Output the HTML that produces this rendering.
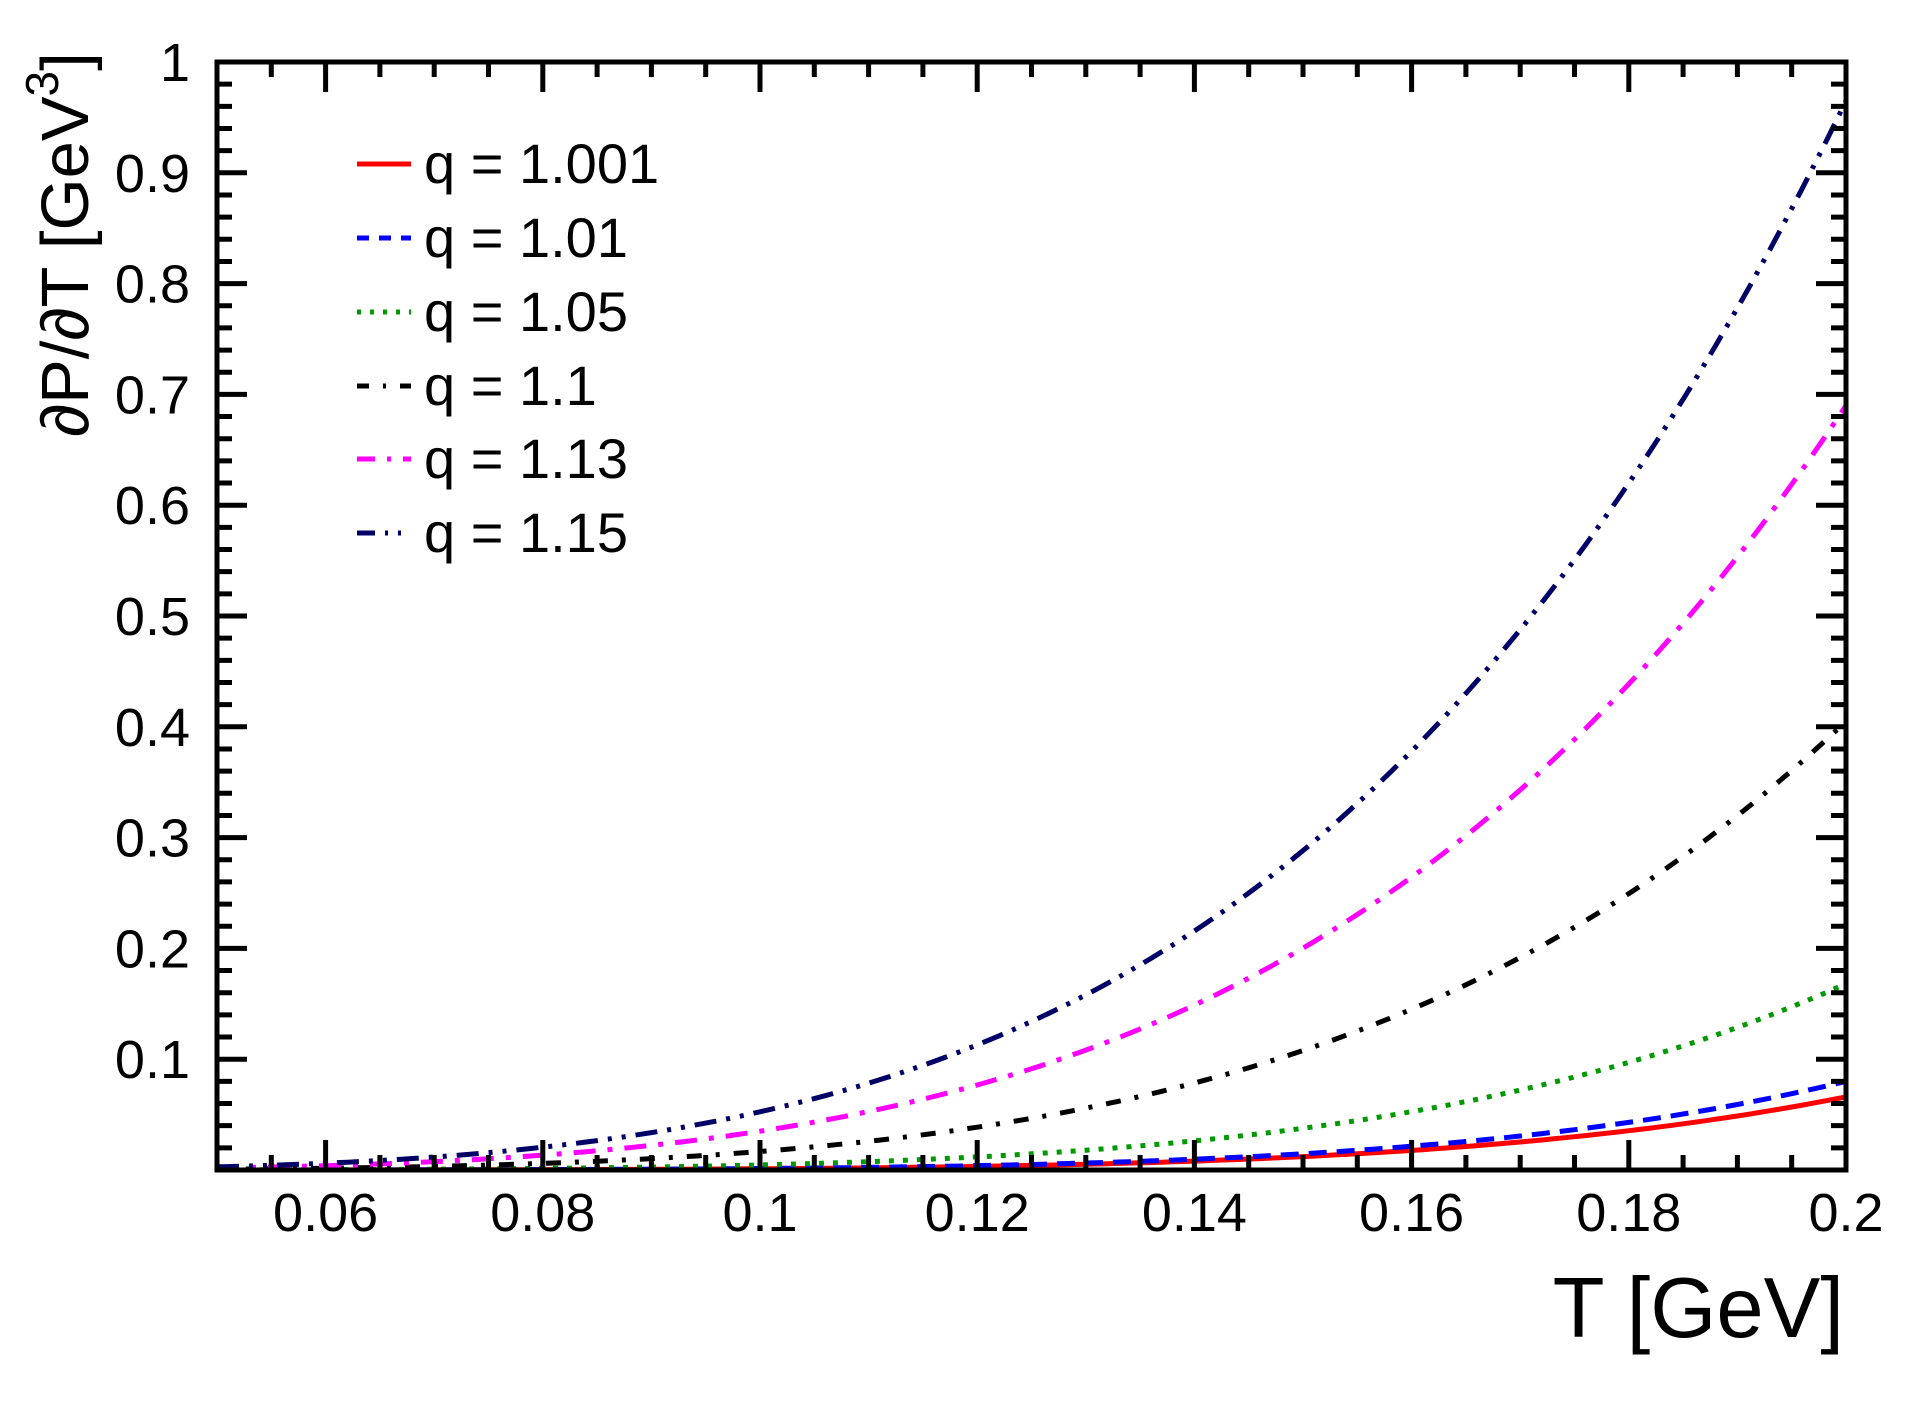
<!DOCTYPE html>
<html><head><meta charset="utf-8">
<style>
html,body{margin:0;padding:0;background:#fff;}
svg{display:block;}
text{font-family:"Liberation Sans",Arial,sans-serif;fill:#000;}
</style></head>
<body>
<svg id="s" width="1912" height="1408" viewBox="0 0 1912 1408" xmlns="http://www.w3.org/2000/svg">
<rect width="1912" height="1408" fill="#fff"/>
<g id="curves" fill="none" stroke-width="5"></g>
<g id="ticks" stroke="#000" stroke-width="5"></g>
<rect x="217" y="62" width="1629" height="1108" fill="none" stroke="#000" stroke-width="5"/>
<g id="labels" font-size="54"></g>
<text x="1844" y="1337" font-size="85" text-anchor="end">T [GeV]</text>
<text transform="translate(88,437) rotate(-90)" font-size="67">∂P/∂T [GeV<tspan font-size="46" dy="-30">3</tspan><tspan dy="30">]</tspan></text>
<g font-size="56">
<line x1="357" y1="164" x2="411" y2="164" stroke="#ff0000" stroke-width="5"/>
<text x="424" y="183">q = 1.001</text>
<line x1="357" y1="238" x2="411" y2="238" stroke="#0000ff" stroke-width="5" stroke-dasharray="12,10"/>
<text x="424" y="257">q = 1.01</text>
<line x1="357" y1="312" x2="411" y2="312" stroke="#009900" stroke-width="5" stroke-dasharray="4,9"/>
<text x="424" y="331">q = 1.05</text>
<line x1="357" y1="386" x2="411" y2="386" stroke="#000" stroke-width="5" stroke-dasharray="12,14,3,14"/>
<text x="424" y="405">q = 1.1</text>
<line x1="357" y1="459" x2="411" y2="459" stroke="#ff00ff" stroke-width="5" stroke-dasharray="18,12,4,12"/>
<text x="424" y="478">q = 1.13</text>
<line x1="357" y1="533" x2="411" y2="533" stroke="#000066" stroke-width="5" stroke-dasharray="18,10,3,10,3,10"/>
<text x="424" y="552">q = 1.15</text>
</g>
</svg>
<script>
(function(){
var NS="http://www.w3.org/2000/svg";
function X(t){return 217+(t-0.05)/0.15*1629;}
function Y(v){return 1170-v*1108;}
function el(p,tag,a,txt){var e=document.createElementNS(NS,tag);for(var k in a)e.setAttribute(k,a[k]);if(txt!=null)e.textContent=txt;p.appendChild(e);return e;}
var tk=document.getElementById('ticks'),lb=document.getElementById('labels'),cv=document.getElementById('curves');
var d="";
for(var i=0;i<=30;i++){var t=0.05+i*0.005,x=X(t);var maj=(i%2==0&&Math.abs(((t*100)%2))<1e-6)||false;
 var tt=Math.round(t*1000);var L=(tt%20==0)?30:15;
 d+="M"+x+" 1170V"+(1170-L)+"M"+x+" 62V"+(62+L);
 if(tt%20==0){el(lb,'text',{x:x,y:1231,'text-anchor':'middle'},(tt/1000).toString().replace(/^0\./,'0.'));}
}
for(var j=0;j<=50;j++){var v=j*0.02,y=Y(v);var L=(j%5==0)?30:15;
 d+="M217 "+y+"H"+(217+L)+"M1846 "+y+"H"+(1846-L);
 if(j%5==0&&j>0){var s=(j==50)?"1":(v.toFixed(1));el(lb,'text',{x:190,y:y+19,'text-anchor':'end'},s);}
}
el(tk,'path',{d:d});
var series=[
 {a:0.066,n:5.9,c:'#ff0000',da:''},
 {a:0.080,n:5.9,c:'#0000ff',da:'18,10'},
 {a:0.168,n:5.2,c:'#009900',da:'5,9'},
 {a:0.405,n:4.6,c:'#000000',da:'15,14,4,14'},
 {a:0.69,n:4.3,c:'#ff00ff',da:'22,12,5,12'},
 {a:0.965,n:4.2,c:'#000066',da:'22,10,4,10,4,10'}];
series.forEach(function(s){var p="";for(var k=0;k<=150;k++){var t=0.05+k*0.001;var v=s.a*Math.pow(t/0.2,s.n);p+=(k?"L":"M")+X(t).toFixed(1)+" "+Y(v).toFixed(1);}
 var a={d:p,stroke:s.c};if(s.da)a['stroke-dasharray']=s.da;el(cv,'path',a);});
})();
</script>
</body></html>
